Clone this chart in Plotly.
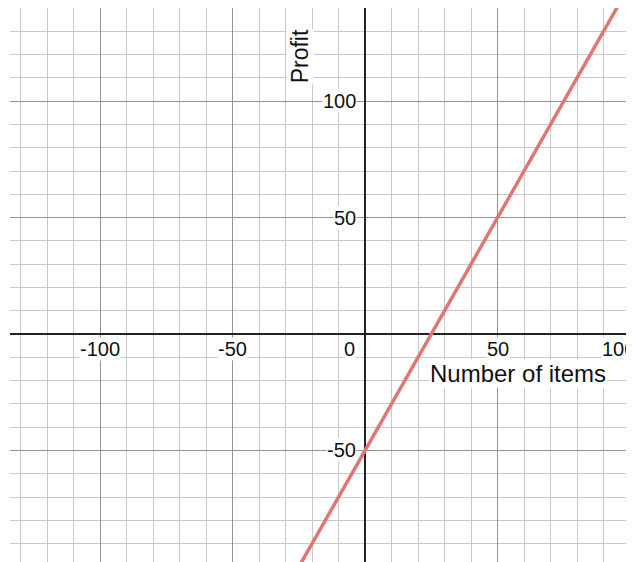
import plotly.graph_objects as go

# Data: the profit line (passes (0,-50), (25,0), (50,50))
items = [-30, 0, 25, 50, 110]
profit = [-110, -50, 0, 50, 170]

x_tick_values = [-100, -50, 50, 100]
x_tick_labels = ["-100", "-50", "50", "100"]
y_tick_values = [100, 50, -50]
y_tick_labels = ["100", "50", "-50"]

x_title = "Number of items"
y_title = "Profit"

FONT = "Liberation Sans, Arial, sans-serif"
MINOR = "#c9c9c9"
MAJOR = "#939393"
AXIS = "#222222"

fig = go.Figure()
fig.add_trace(go.Scatter(
    x=items, y=profit, mode="lines",
    line=dict(color="rgb(222,118,114)", width=3.5),
    hoverinfo="skip", showlegend=False,
))

axis_common = dict(
    showticklabels=False, ticks="", showline=False,
    gridcolor=MAJOR, gridwidth=1.2,
    zeroline=True, zerolinecolor=AXIS, zerolinewidth=2,
    tick0=0, dtick=50,
    minor=dict(tick0=0, dtick=10, showgrid=True, gridcolor=MINOR, gridwidth=1.2),
    fixedrange=True,
)

# the page body adds an 8px offset, so the figure is sized to land the plot
# area at x 10..634, y 8..562 of the window
fig.update_layout(
    width=626, height=554,
    margin=dict(l=2, r=0, t=0, b=0),
    paper_bgcolor="white", plot_bgcolor="white",
    xaxis=dict(range=[-134, 101.5], **axis_common),
    yaxis=dict(range=[-97.9, 140], **axis_common),
    showlegend=False,
)

annotations = []
for v, t in zip(x_tick_values, x_tick_labels):
    # the label at the right edge is pulled inwards, as in the reference
    shift = -12 if v == max(x_tick_values) else 0
    annotations.append(dict(x=v, y=0, xref="x", yref="y", text=t, showarrow=False,
                            xanchor="center", yanchor="middle", yshift=-15, xshift=shift,
                            bgcolor="white", borderpad=0,
                            font=dict(family=FONT, size=20, color="#111")))
annotations.append(dict(x=0, y=0, xref="x", yref="y", text="0", showarrow=False,
                        xanchor="right", yanchor="middle", xshift=-9, yshift=-15,
                        bgcolor="white", borderpad=0,
                        font=dict(family=FONT, size=20, color="#111")))
for v, t in zip(y_tick_values, y_tick_labels):
    annotations.append(dict(x=0, y=v, xref="x", yref="y", text=t, showarrow=False,
                            xanchor="right", yanchor="middle", xshift=-8,
                            bgcolor="white", borderpad=0,
                            font=dict(family=FONT, size=20, color="#111")))
annotations.append(dict(x=57.7, y=-15.9, xref="x", yref="y", text=x_title, showarrow=False,
                        xanchor="center", yanchor="middle", yshift=-2,
                        bgcolor="white", borderpad=0,
                        font=dict(family=FONT, size=24, color="#111")))
annotations.append(dict(x=-24.5, y=119.3, xref="x", yref="y", text=y_title, showarrow=False,
                        xanchor="center", yanchor="middle", textangle=-90,
                        bgcolor="white", borderpad=0,
                        font=dict(family=FONT, size=23, color="#111")))
fig.update_layout(annotations=annotations)

fig.write_html("out.html")
